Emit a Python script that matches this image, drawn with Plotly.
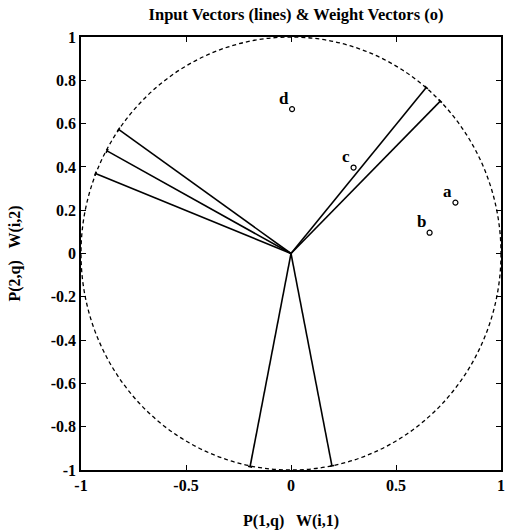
import plotly.graph_objects as go

# Input vectors (end points on the unit circle)
px = [-0.821, -0.876, -0.931, 0.644, 0.711, -0.195, 0.195]
py = [0.573, 0.474, 0.369, 0.767, 0.704, -0.985, -0.981]

# Weight vectors
w_labels = ["a", "b", "c", "d"]
wx = [0.783, 0.660, 0.298, 0.005]
wy = [0.235, 0.096, 0.397, 0.667]

xticks = [-1, -0.5, 0, 0.5, 1]
yticks = [-1, -0.8, -0.6, -0.4, -0.2, 0, 0.2, 0.4, 0.6, 0.8, 1]

FONT = "Liberation Serif"

fig = go.Figure()

# lines from origin
lx, ly = [], []
for x, y in zip(px, py):
    lx += [0, x, None]
    ly += [0, y, None]
fig.add_trace(go.Scatter(x=lx, y=ly, mode="lines",
                         line=dict(color="black", width=1.6),
                         hoverinfo="skip", showlegend=False))

# small perpendicular end marks
hx, hy = [], []
h = 0.01
for x, y in zip(px, py):
    hx += [x - h * y, x + h * y, None]
    hy += [y + h * x, y - h * x, None]
fig.add_trace(go.Scatter(x=hx, y=hy, mode="lines",
                         line=dict(color="black", width=1.6),
                         hoverinfo="skip", showlegend=False))

# weight vectors
fig.add_trace(go.Scatter(x=wx, y=wy, mode="markers",
                         marker=dict(symbol="circle-open", size=5,
                                     color="black", line=dict(width=1.2)),
                         showlegend=False))

for lab, x, y in zip(w_labels, wx, wy):
    fig.add_annotation(x=x, y=y, text=f"<b>{lab}</b>", showarrow=False,
                       xshift=-8, yshift=11,
                       font=dict(family=FONT, size=17, color="black"))

# dashed unit circle
fig.add_shape(type="circle", xref="x", yref="y", x0=-1, y0=-1, x1=1, y1=1,
              line=dict(color="black", width=1.3, dash="4px,3px"), layer="below")

axis_common = dict(showline=True, linecolor="black", linewidth=1.5,
                   mirror="ticks", ticks="inside", ticklen=5,
                   tickcolor="black", tickwidth=1, showgrid=False,
                   zeroline=False, automargin=False,
                   ticklabeloverflow="allow",
                   tickfont=dict(family=FONT, size=16, color="black"))

fig.update_layout(
    width=506, height=532,
    margin=dict(l=81, r=5, t=37, b=62),
    paper_bgcolor="white", plot_bgcolor="white",
    title=dict(text="<b>Input Vectors (lines) & Weight Vectors (o)</b>",
               x=0.585, xanchor="center", y=0.974, yanchor="middle",
               font=dict(family=FONT, size=16.5, color="black")),
    xaxis=dict(range=[-1, 1], tickvals=xticks,
               ticktext=[f"<b>{v:g}</b>" for v in xticks],
               title=dict(text="<b>P(1,q)   W(i,1)</b>", standoff=22,
                          font=dict(family=FONT, size=16, color="black")),
               **axis_common),
    yaxis=dict(range=[-1, 1], tickvals=yticks,
               ticktext=[f"<b>{v:g}</b>" for v in yticks],
               title=dict(text="<b>P(2,q)   W(i,2)</b>", standoff=26,
                          font=dict(family=FONT, size=16, color="black")),
               **axis_common),
)

fig.write_html("out.html")
